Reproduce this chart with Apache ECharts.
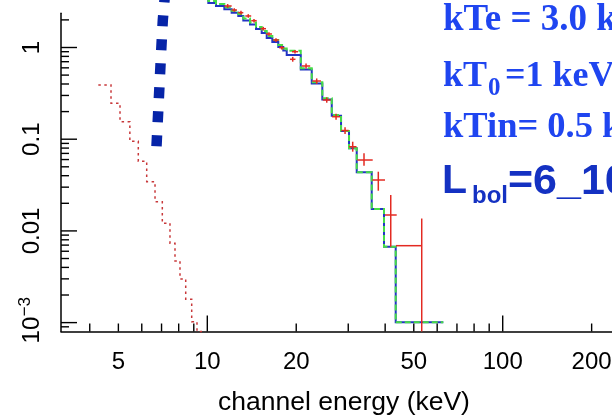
<!DOCTYPE html>
<html><head><meta charset="utf-8">
<script src="https://cdn.jsdelivr.net/npm/echarts@6/dist/echarts.min.js"></script>
<style>html,body{margin:0;padding:0;background:#fff;overflow:hidden}#chart{width:612px;height:416px}</style>
</head><body><div id="chart"></div>
<script>
// ---------- axis ticks & labels ----------
const xMajorTicks = [10, 100];
const xMinorTicks = [4, 5, 6, 7, 8, 9, 20, 30, 40, 50, 60, 70, 80, 90, 200];
const xLabelValues = [5, 10, 20, 50, 100, 200];
const yMajorTicks = [0.001, 0.01, 0.1, 1];
const yMinorTicks = [0.0009, 0.002, 0.003, 0.004, 0.005, 0.006, 0.007, 0.008, 0.009,
  0.02, 0.03, 0.04, 0.05, 0.06, 0.07, 0.08, 0.09,
  0.2, 0.3, 0.4, 0.5, 0.6, 0.7, 0.8, 0.9, 2];
const yLabelValues = [0.001, 0.01, 0.1, 1];
const yLabelTexts = ['10^-3', '0.01', '0.1', '1'];
const xTitle = 'channel energy (keV)';

// ---------- total model (green dashed) & component (blue) step histograms ----------
const modelEdges = [9.45, 10.08, 10.70, 11.42, 12.09, 12.73, 13.24, 13.95, 14.62, 15.28, 15.89, 16.60, 17.39,
  18.08, 18.57, 20.72, 22.57, 24.51, 26.38, 28.36, 30.18, 32.05, 36.02, 39.64, 43.43, 62.93];
const modelTotal = [3.64, 3.215, 2.98, 2.745, 2.52, 2.32, 2.07, 1.873, 1.673, 1.513, 1.335, 1.207, 1.065,
  0.975, 0.923, 0.593, 0.417, 0.279, 0.1836, 0.1229, 0.0796, 0.0436, 0.01733, 0.00673, 0.001007];
const modelComp = [3.46, 3.05, 2.83, 2.61, 2.39, 2.20, 1.97, 1.78, 1.59, 1.44, 1.27, 1.15, 1.01,
  0.926, 0.83, 0.575, 0.405, 0.271, 0.180, 0.1229, 0.0796, 0.0436, 0.01733, 0.00673, 0.001007];

// ---------- soft component (red dotted step) ----------
const softEdges = [4.276, 4.721, 5.064, 5.468, 5.84, 6.235, 6.653, 7.042, 7.476, 7.774, 8.083, 8.451, 8.855, 9.228, 9.6];
const softModel = [0.390, 0.2463, 0.1551, 0.0949, 0.0574, 0.0344, 0.0208, 0.0121, 0.00732, 0.00470, 0.00299,
  0.001795, 0.001023, 0.0008];

// ---------- steep component (thick blue dotted) ----------
const steepE = [6.73, 6.99, 7.07, 7.2];
const steepV = [0.084, 1, 2, 4];

// ---------- data points with error bars ----------
const dataE    = [11.72, 12.34, 13.00, 13.76, 14.39, 15.47, 16.17, 17.08, 17.86, 19.81, 19.46, 21.59, 23.46, 25.37, 27.28, 29.26, 31.06, 33.92, 37.92, 41.78, 53.19];
const dataELo  = [11.42, 12.09, 12.73, 13.45, 14.08, 15.15, 15.80, 16.70, 17.50, 19.35, 19.05, 20.90, 22.70, 24.60, 26.45, 28.45, 30.18, 32.20, 36.19, 39.95, 43.53];
const dataEHi  = [12.09, 12.60, 13.24, 14.08, 14.70, 15.80, 16.55, 17.46, 18.22, 20.28, 19.88, 22.30, 24.25, 26.15, 28.15, 30.10, 32.00, 36.30, 39.95, 43.77, 53.19];
const dataV    = [2.836, 2.564, 2.397, 2.206, 1.960, 1.603, 1.404, 1.207, 0.995, 0.900, 0.7435, 0.6284, 0.431, 0.2676, 0.1759, 0.1244, 0.0828, 0.0593, 0.0359, 0.01491, 0.0069];
const dataVLo  = [2.70, 2.45, 2.29, 2.11, 1.87, 1.53, 1.34, 1.15, 0.95, 0.86, 0.70, 0.59, 0.40, 0.25, 0.163, 0.114, 0.0731, 0.0514, 0.02743, 0.006726, 0.0008];
const dataVHi  = [2.98, 2.68, 2.51, 2.31, 2.05, 1.68, 1.47, 1.26, 1.04, 0.94, 0.79, 0.67, 0.46, 0.286, 0.189, 0.135, 0.0939, 0.0702, 0.04421, 0.02463, 0.01365];

// ---------- annotation text ----------
const annoLine1 = 'kTe = 3.0 keV';
const annoLine2a = 'kT', annoLine2sub = '0', annoLine2b = '=1 keV';
const annoLine3 = 'kTin= 0.5 keV';
const annoLine4a = 'L', annoLine4sub = 'bol', annoLine4b = '=6_10';

const X_MIN = 3.197, X_MAX = 234.4, Y_MIN = 0.0008, Y_MAX = 2.36;
const RED = '#e32a22', GREEN = '#46dd46', BLUE = '#2234c4', NAVY = '#0624a8', SOFTRED = '#c8383a';
const SANS = '"Liberation Sans", Arial, Helvetica, sans-serif';
const SERIF = '"Liberation Serif", "Times New Roman", serif';

function steps(edges, vals) {
  const p = [];
  vals.forEach((v, i) => { p.push([edges[i], v], [edges[i + 1], v]); });
  return p;
}

function tickSeries(values, len, axis) {
  return {
    type: 'custom', silent: true, z: 10, animation: false,
    data: values.map(v => axis === 'x' ? [v, Y_MIN] : [X_MIN, v]),
    renderItem: (params, api) => {
      const p = api.coord([api.value(0), api.value(1)]);
      const shape = axis === 'x'
        ? { x1: p[0], y1: p[1], x2: p[0], y2: p[1] - len }
        : { x1: p[0], y1: p[1], x2: p[0] + len, y2: p[1] };
      return { type: 'line', shape, style: { stroke: '#000', lineWidth: 1.4 } };
    }
  };
}

const xLabelSeries = {
  type: 'custom', silent: true, z: 10, animation: false,
  data: xLabelValues.map(v => [v, Y_MIN]),
  renderItem: (params, api) => {
    const p = api.coord([api.value(0), api.value(1)]);
    return { type: 'text', x: p[0], y: p[1] + 31,
      style: { text: String(xLabelValues[params.dataIndex]), font: '24px ' + SANS, fill: '#000', align: 'center', verticalAlign: 'middle' } };
  }
};

const yLabelSeries = {
  type: 'custom', silent: true, z: 10, animation: false,
  data: yLabelValues.map(v => [X_MIN, v]),
  renderItem: (params, api) => {
    const p = api.coord([api.value(0), api.value(1)]);
    const t = yLabelTexts[params.dataIndex];
    const lx = p[0] - 28.3;
    if (t.indexOf('^') >= 0) {
      const parts = t.split('^');
      return { type: 'group', children: [
        { type: 'text', x: lx, y: p[1] + 7.5, rotation: Math.PI / 2,
          style: { text: parts[0], font: '24px ' + SANS, fill: '#000', align: 'center', verticalAlign: 'middle' } },
        { type: 'text', x: lx - 7, y: p[1] - 16, rotation: Math.PI / 2,
          style: { text: parts[1].replace('-', '\u2212'), font: '17px ' + SANS, fill: '#000', align: 'center', verticalAlign: 'middle' } }
      ] };
    }
    return { type: 'text', x: lx, y: p[1], rotation: Math.PI / 2,
      style: { text: t, font: '24px ' + SANS, fill: '#000', align: 'center', verticalAlign: 'middle' } };
  }
};

const errorBarSeries = {
  type: 'custom', z: 8, animation: false, silent: true,
  encode: { x: 0, y: 1 },
  data: dataE.map((e, i) => [e, dataV[i], dataELo[i], dataEHi[i], dataVLo[i], dataVHi[i]]),
  renderItem: (params, api) => {
    const c = api.coord([api.value(0), api.value(1)]);
    const l = api.coord([api.value(2), api.value(1)]);
    const r = api.coord([api.value(3), api.value(1)]);
    const lo = api.coord([api.value(0), api.value(4)]);
    const hi = api.coord([api.value(0), api.value(5)]);
    return { type: 'group', children: [
      { type: 'line', shape: { x1: l[0], y1: c[1], x2: r[0], y2: c[1] }, style: { stroke: RED, lineWidth: 1.5 } },
      { type: 'line', shape: { x1: c[0], y1: lo[1], x2: c[0], y2: hi[1] }, style: { stroke: RED, lineWidth: 1.5 } }
    ] };
  }
};

function lineSeries(data, color, width, type, z) {
  return { type: 'line', data, showSymbol: false, symbol: 'none', clip: false, z, silent: true, animation: false,
    lineStyle: { color, width, type, cap: 'butt', join: 'miter' } };
}

const annoBlue = '#1f45f0', annoDark = '#1431c2';
const option = {
  animation: false,
  backgroundColor: '#fff',
  grid: { left: 61, right: 0, top: 13.3, bottom: 84.5, containLabel: false },
  xAxis: { type: 'log', logBase: 10, min: X_MIN, max: X_MAX,
    axisLine: { show: true, lineStyle: { color: '#000', width: 1.5 } },
    axisTick: { show: false }, axisLabel: { show: false }, splitLine: { show: false } },
  yAxis: { type: 'log', logBase: 10, min: Y_MIN, max: Y_MAX,
    axisLine: { show: true, lineStyle: { color: '#000', width: 1.5 } },
    axisTick: { show: false }, axisLabel: { show: false }, splitLine: { show: false } },
  series: [
    lineSeries(steps(softEdges, softModel), SOFTRED, 1.5, [2.5, 3.5], 2),
    lineSeries(steepE.map((e, i) => [e, steepV[i]]), NAVY, 10.5, [11, 13], 3),
    lineSeries(steps(modelEdges, modelComp), BLUE, 2, 'solid', 4),
    lineSeries(steps(modelEdges, modelTotal), GREEN, 2, [6, 3], 5),
    errorBarSeries,
    tickSeries(xMajorTicks, 16, 'x'),
    tickSeries(xMinorTicks, 8, 'x'),
    tickSeries(yMajorTicks, 16, 'y'),
    tickSeries(yMinorTicks, 8, 'y'),
    xLabelSeries,
    yLabelSeries
  ],
  graphic: [
    { type: 'text', x: 344, y: 403, style: { text: xTitle, font: '26.5px ' + SANS, fill: '#000', align: 'center', verticalAlign: 'middle' } },
    { type: 'text', x: 443, y: 20.5, style: { text: annoLine1, font: 'bold 37px ' + SERIF, fill: annoBlue, align: 'left', verticalAlign: 'middle' } },
    { type: 'text', x: 443, y: 76.3, style: { text: annoLine2a, font: 'bold 36px ' + SERIF, fill: annoBlue, align: 'left', verticalAlign: 'middle' } },
    { type: 'text', x: 488, y: 89, style: { text: annoLine2sub, font: 'bold 25px ' + SERIF, fill: annoBlue, align: 'left', verticalAlign: 'middle' } },
    { type: 'text', x: 505, y: 76.3, style: { text: annoLine2b, font: 'bold 36px ' + SERIF, fill: annoBlue, align: 'left', verticalAlign: 'middle' } },
    { type: 'text', x: 443, y: 127.3, style: { text: annoLine3, font: 'bold 36.5px ' + SERIF, fill: annoBlue, align: 'left', verticalAlign: 'middle' } },
    { type: 'text', x: 442, y: 182, style: { text: annoLine4a, font: 'bold 41px ' + SANS, fill: annoDark, align: 'left', verticalAlign: 'middle' } },
    { type: 'text', x: 472, y: 196.5, style: { text: annoLine4sub, font: 'bold 24px ' + SANS, fill: annoDark, align: 'left', verticalAlign: 'middle' } },
    { type: 'text', x: 508, y: 182, style: { text: annoLine4b, font: 'bold 43px ' + SANS, fill: annoDark, align: 'left', verticalAlign: 'middle' } }
  ]
};
const chart = echarts.init(document.getElementById('chart'), null, { renderer: 'canvas' });
chart.setOption(option);
</script>
</body></html>
